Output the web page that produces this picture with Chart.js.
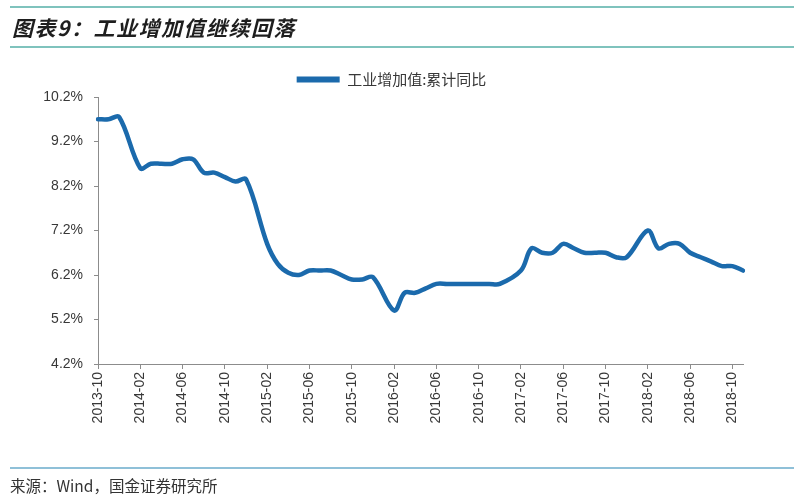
<!DOCTYPE html>
<html>
<head>
<meta charset="utf-8">
<script src="https://cdn.jsdelivr.net/npm/chart.js@4.4.1/dist/chart.umd.min.js"></script>
<style>
  html, body { margin: 0; padding: 0; background: #fff; }
  #wrap { position: relative; width: 800px; height: 500px; overflow: hidden; }
  #chart { position: absolute; left: 0; top: 0; }
  .rule { position: absolute; left: 10px; right: 6px; height: 2px; }
  #title {
    position: absolute; left: 12px; top: 12px;
    font: italic bold 21px "Noto Sans CJK SC", sans-serif; letter-spacing: 1.5px;
    color: #1e1e1e; white-space: nowrap;
  }
  #source {
    position: absolute; left: 10px; top: 474px;
    font: 15.5px "Noto Sans CJK SC", "Liberation Sans", sans-serif;
    color: #333; white-space: nowrap;
  }
</style>
</head>
<body>
<div id="wrap">
  <canvas id="chart" width="800" height="500"></canvas>
  <div class="rule" style="top:6px;background:#7fc3bd"></div>
  <div id="title">图表9：工业增加值继续回落</div>
  <div class="rule" style="top:46px;background:#7fc3bd"></div>
  <div class="rule" style="top:467px;background:#8fc0d8"></div>
  <div id="source">来源：Wind，国金证券研究所</div>
</div>
<script>
// 月度类别（2013-10 ~ 2018-11），1月无数据
const months = [
  '2013-10','2013-11','2013-12',
  '2014-01','2014-02','2014-03','2014-04','2014-05','2014-06','2014-07','2014-08','2014-09','2014-10','2014-11','2014-12',
  '2015-01','2015-02','2015-03','2015-04','2015-05','2015-06','2015-07','2015-08','2015-09','2015-10','2015-11','2015-12',
  '2016-01','2016-02','2016-03','2016-04','2016-05','2016-06','2016-07','2016-08','2016-09','2016-10','2016-11','2016-12',
  '2017-01','2017-02','2017-03','2017-04','2017-05','2017-06','2017-07','2017-08','2017-09','2017-10','2017-11','2017-12',
  '2018-01','2018-02','2018-03','2018-04','2018-05','2018-06','2018-07','2018-08','2018-09','2018-10','2018-11'
];

// 工业增加值:累计同比 (%)
const ivaYoY = [
  9.7, 9.7, 9.75,
  null, 8.6, 8.7, 8.7, 8.7, 8.8, 8.8, 8.5, 8.5, 8.4, 8.3, 8.35,
  null, 6.9, 6.45, 6.25, 6.2, 6.3, 6.3, 6.3, 6.2, 6.1, 6.1, 6.15,
  null, 5.4, 5.8, 5.8, 5.9, 6.0, 6.0, 6.0, 6.0, 6.0, 6.0, 6.0,
  null, 6.3, 6.8, 6.7, 6.7, 6.9, 6.8, 6.7, 6.7, 6.7, 6.6, 6.6,
  null, 7.2, 6.8, 6.9, 6.9, 6.7, 6.6, 6.5, 6.4, 6.4, 6.3
];

const yMin = 4.2, yMax = 10.2, yStep = 1.0;
const labelEvery = 4;

const axisColor = '#8c8c8c';
const textColor = '#383838';
const lineBlue  = '#1b6aac';

new Chart(document.getElementById('chart'), {
  type: 'line',
  data: {
    labels: months,
    datasets: [{
      label: '工业增加值:累计同比',
      data: ivaYoY,
      borderColor: lineBlue,
      backgroundColor: lineBlue,
      borderWidth: 4.5,
      borderCapStyle: 'round',
      borderJoinStyle: 'round',
      pointRadius: 0,
      tension: 0.35,
      spanGaps: true
    }]
  },
  options: {
    responsive: false,
    animation: false,
    devicePixelRatio: 1,
    layout: { padding: { top: 62, right: 57, bottom: 0, left: 40 } },
    plugins: {
      tooltip: { enabled: false },
      legend: {
        display: true,
        position: 'top',
        labels: {
          boxWidth: 43,
          boxHeight: 6,
          padding: 10,
          color: textColor,
          font: { family: '"Noto Sans CJK SC", sans-serif', size: 15 },
          generateLabels: chart =>
            Chart.defaults.plugins.legend.labels.generateLabels(chart).map(l => ({ ...l, lineWidth: 0 }))
        }
      }
    },
    scales: {
      x: {
        type: 'category',
        offset: false,
        afterFit: s => { s.height = 136; },
        grid: { drawOnChartArea: false, drawTicks: true, tickLength: 5, color: axisColor },
        border: { display: true, color: axisColor, width: 1 },
        ticks: {
          autoSkip: false,
          maxRotation: 90,
          minRotation: 90,
          padding: 3,
          color: textColor,
          font: { family: '"Liberation Sans", Arial, sans-serif', size: 14 },
          callback: function (v, i) { return i % labelEvery === 0 ? this.getLabelForValue(v) : null; }
        }
      },
      y: {
        min: yMin,
        max: yMax,
        afterFit: s => { s.width = 58; },
        grid: { drawOnChartArea: false, drawTicks: true, tickLength: 4, color: axisColor },
        border: { display: true, color: axisColor, width: 1 },
        ticks: {
          stepSize: yStep,
          padding: 11,
          color: textColor,
          font: { family: '"Liberation Sans", Arial, sans-serif', size: 14 },
          callback: v => v.toFixed(1) + '%'
        }
      }
    }
  }
});
</script>
</body>
</html>
